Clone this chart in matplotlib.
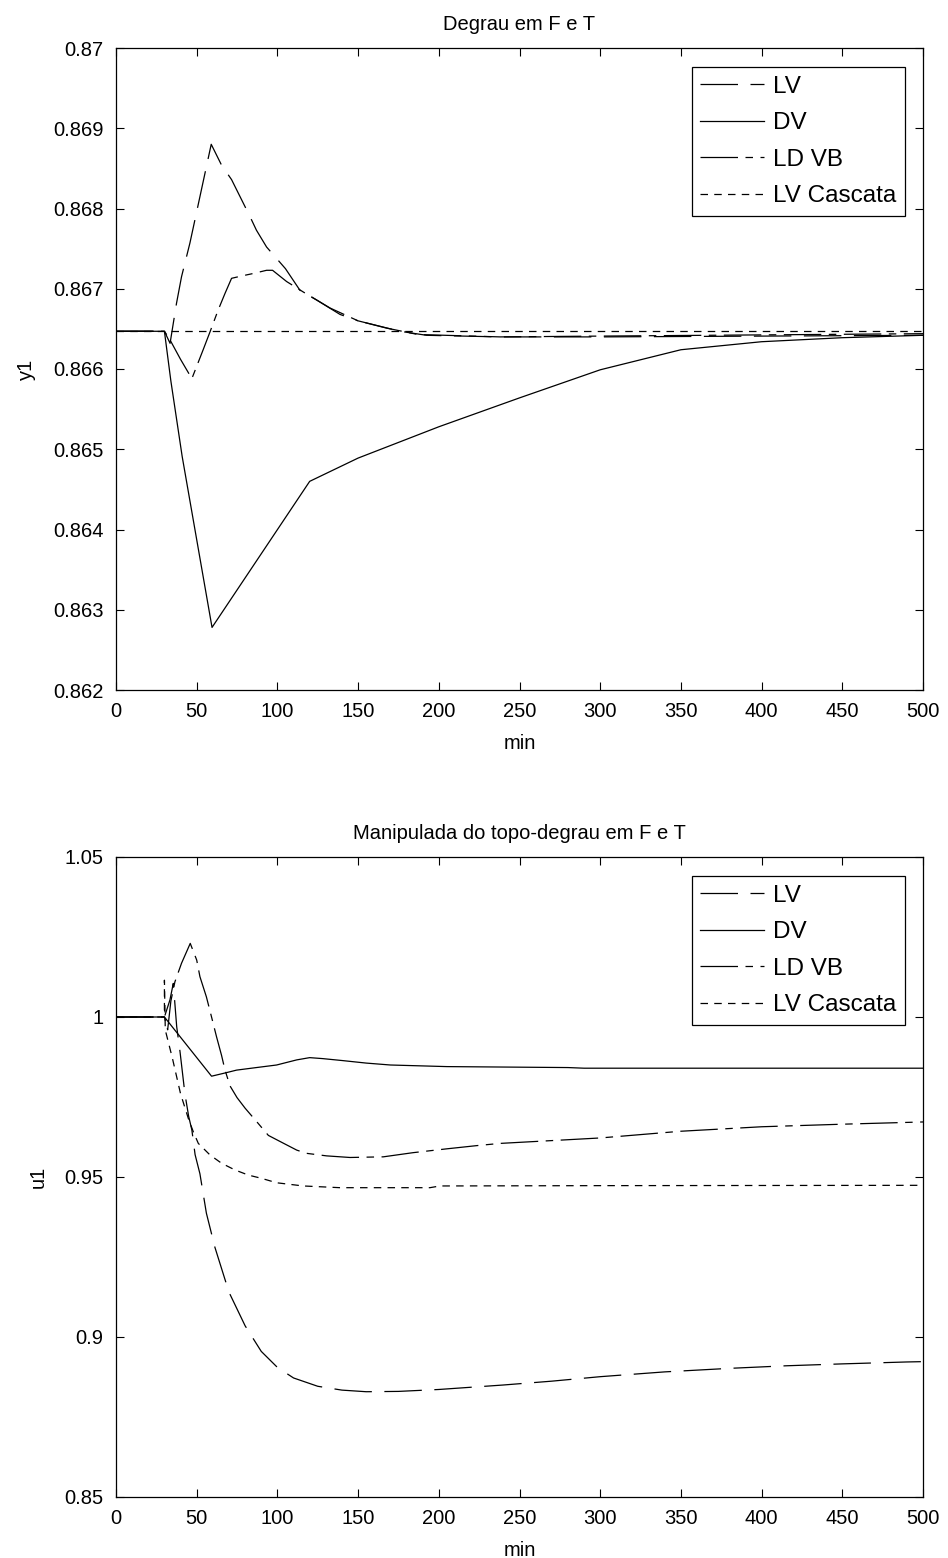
import matplotlib
matplotlib.use("Agg")
import matplotlib.pyplot as plt
from matplotlib.ticker import FixedLocator, FixedFormatter

plt.rcParams['font.family'] = ['Liberation Sans', 'DejaVu Sans']

# ---------------- data: top panel (y1) ----------------
t_y1_lv = [0, 30, 33.5, 37.5, 40.6, 45.8, 59, 65.4, 71.6, 83, 87, 93.3, 105, 114,
           124.3, 138.8, 150, 176, 192.4, 238, 300, 400, 500]
y1_lv = [0.86647, 0.86647, 0.86632, 0.86682, 0.86715, 0.86757, 0.86880, 0.86854,
         0.86836, 0.86790, 0.86773, 0.86752, 0.86725, 0.86698, 0.86686, 0.86668,
         0.86660, 0.86647, 0.86642, 0.86640, 0.86640, 0.86641, 0.86642]

t_y1_dv = [0, 30, 34, 41, 59.5, 120, 150, 200, 250, 300, 350, 400, 450, 500]
y1_dv = [0.86647, 0.86647, 0.86585, 0.86491, 0.86278, 0.86460, 0.86489, 0.86528,
         0.86564, 0.86599, 0.86624, 0.86634, 0.86639, 0.86642]

t_y1_ldvb = [0, 30, 33, 40, 47, 54, 58.2, 63.2, 67.5, 71.6, 78, 85, 93.3, 97,
             105.7, 116, 132.6, 150, 167.6, 187, 238, 300, 500]
y1_ldvb = [0.86647, 0.86647, 0.86638, 0.86612, 0.86588, 0.86624, 0.86646, 0.86673,
           0.86694, 0.86713, 0.86716, 0.86719, 0.86723, 0.86723, 0.86709, 0.86696,
           0.86676, 0.86660, 0.86651, 0.86643, 0.86640, 0.86641, 0.86644]

t_y1_casc = [0, 500]
y1_casc = [0.86647, 0.86647]

# ---------------- data: bottom panel (u1) ----------------
t_u1_lv = [0, 30, 33.4, 35.5, 37.6, 39.7, 42.7, 45, 47, 49, 52, 56, 61.3, 70, 80,
           90, 100, 110, 125, 140, 155, 175, 200, 240, 270, 300, 340, 380, 415,
           450, 490, 500]
u1_lv = [1.0, 1.0, 1.0053, 1.0105, 0.997, 0.989, 0.976, 0.969, 0.9647, 0.957,
         0.951, 0.9387, 0.928, 0.914, 0.9035, 0.8955, 0.8905, 0.8872, 0.8846, 0.8834,
         0.8829, 0.8830, 0.8836, 0.8850, 0.8862, 0.8876, 0.8891, 0.8902, 0.8910,
         0.8916, 0.8922, 0.8923]

t_u1_dv = [0, 30, 59.2, 67.5, 74.7, 87, 99.5, 112, 120, 128, 140, 155, 170, 205,
           280, 290, 500]
u1_dv = [1.0, 1.0, 0.9815, 0.9825, 0.9834, 0.9842, 0.9850, 0.9866, 0.9873, 0.9870,
         0.9864, 0.9856, 0.9850, 0.9845, 0.9842, 0.9840, 0.9840]

t_u1_ldvb = [0, 30, 32, 34, 36.5, 40.6, 46, 50, 52, 56, 59.2, 62.3, 65.4, 67.5,
             70.6, 75, 80, 88, 94.4, 104.7, 112, 118, 130.5, 145, 165.6, 184,
             204.9, 223.4, 238, 300, 350, 400, 450, 500]
u1_ldvb = [1.0, 1.0, 0.996, 1.005, 1.011, 1.0168, 1.023, 1.0178, 1.0126, 1.0063,
           1.0, 0.9938, 0.988, 0.9835, 0.9785, 0.9748, 0.9715, 0.9668, 0.9630,
           0.9603, 0.9584, 0.9574, 0.9566, 0.9561, 0.9563, 0.9576, 0.9588, 0.9598,
           0.9605, 0.9622, 0.9643, 0.9657, 0.9665, 0.9672]

t_u1_casc = [0, 30, 30, 30.5, 31, 35, 40, 45, 48, 51, 58.2, 65.4, 73.7, 82, 90,
             99.5, 116, 138.8, 194.5, 200.7, 300, 500]
u1_casc = [1.0, 1.0, 1.0115, 0.997, 0.995, 0.987, 0.976, 0.968, 0.964, 0.9605,
           0.9569, 0.9543, 0.9522, 0.9506, 0.9496, 0.9482, 0.9472, 0.94666,
           0.94666, 0.9472, 0.9473, 0.9474]

labels = ["LV", "DV", "LD VB", "LV Cascata"]

xticks = [0, 50, 100, 150, 200, 250, 300, 350, 400, 450, 500]
y1_ticks = [0.862, 0.863, 0.864, 0.865, 0.866, 0.867, 0.868, 0.869, 0.87]
y1_ticklabels = ["0.862", "0.863", "0.864", "0.865", "0.866", "0.867", "0.868", "0.869", "0.87"]
u1_ticks = [0.85, 0.9, 0.95, 1.0, 1.05]
u1_ticklabels = ["0.85", "0.9", "0.95", "1", "1.05"]

# ---------------- styles ----------------
FS = 14.5
LFS = 17.5
styles = [
    dict(linestyle=(0, (30, 10))),          # LV  (long dash)
    dict(linestyle='-'),                     # DV  (solid)
    dict(linestyle=(0, (30, 6, 6, 6))),      # LD VB (dash-dot)
    dict(linestyle=(0, (6, 5))),             # LV Cascata (short dash)
]

W, H = 948, 1558
fig = plt.figure(figsize=(W / 100, H / 100), dpi=100)

def make_axes(top_px, bottom_px):
    left_px, right_px = 116, 923
    return fig.add_axes([left_px / W, (H - bottom_px) / H,
                         (right_px - left_px) / W, (bottom_px - top_px) / H])

ax1 = make_axes(48, 690)
ax2 = make_axes(857, 1497)

def style_axes(ax, yticks, yticklabels, ylim, title, ylabel):
    ax.set_xlim(0, 500)
    ax.set_ylim(*ylim)
    ax.xaxis.set_major_locator(FixedLocator(xticks))
    ax.xaxis.set_major_formatter(FixedFormatter([str(v) for v in xticks]))
    ax.yaxis.set_major_locator(FixedLocator(yticks))
    ax.yaxis.set_major_formatter(FixedFormatter(yticklabels))
    ax.tick_params(direction='in', length=6, width=0.8, top=True, right=True,
                   labelsize=FS, pad=9, colors='black')
    for s in ax.spines.values():
        s.set_linewidth(0.9)
        s.set_color('black')
    ax.set_title(title, fontsize=FS, pad=13)
    ax.set_xlabel("min", fontsize=FS, labelpad=9)
    ax.set_ylabel(ylabel, fontsize=FS, labelpad=12)

def add_legend(ax, handles, top_gap_px, right_gap_px, ax_w_px, ax_h_px):
    leg = ax.legend(handles, labels, loc='upper right',
                    bbox_to_anchor=(1 - right_gap_px / ax_w_px, 1 - top_gap_px / ax_h_px),
                    borderaxespad=0, fontsize=LFS, handlelength=2.6,
                    handletextpad=0.4, labelspacing=0.6, borderpad=0.35,
                    fancybox=False, framealpha=1, edgecolor='black')
    leg.get_frame().set_linewidth(0.9)

# top panel
h = []
for (tt, yy), st in zip([(t_y1_lv, y1_lv), (t_y1_dv, y1_dv), (t_y1_ldvb, y1_ldvb),
                         (t_y1_casc, y1_casc)], styles):
    line, = ax1.plot(tt, yy, color='black', linewidth=0.9, **st)
    h.append(line)
style_axes(ax1, y1_ticks, y1_ticklabels, (0.862, 0.87), "Degrau em F e T", "y1")
add_legend(ax1, h, 19, 18, 807, 642)

# bottom panel
h = []
for (tt, yy), st in zip([(t_u1_lv, u1_lv), (t_u1_dv, u1_dv), (t_u1_ldvb, u1_ldvb),
                         (t_u1_casc, u1_casc)], styles):
    line, = ax2.plot(tt, yy, color='black', linewidth=0.9, **st)
    h.append(line)
style_axes(ax2, u1_ticks, u1_ticklabels, (0.85, 1.05),
           "Manipulada do topo-degrau em F e T", "u1")
add_legend(ax2, h, 19, 18, 807, 640)

fig.savefig("out.png", dpi=100, facecolor='white')
